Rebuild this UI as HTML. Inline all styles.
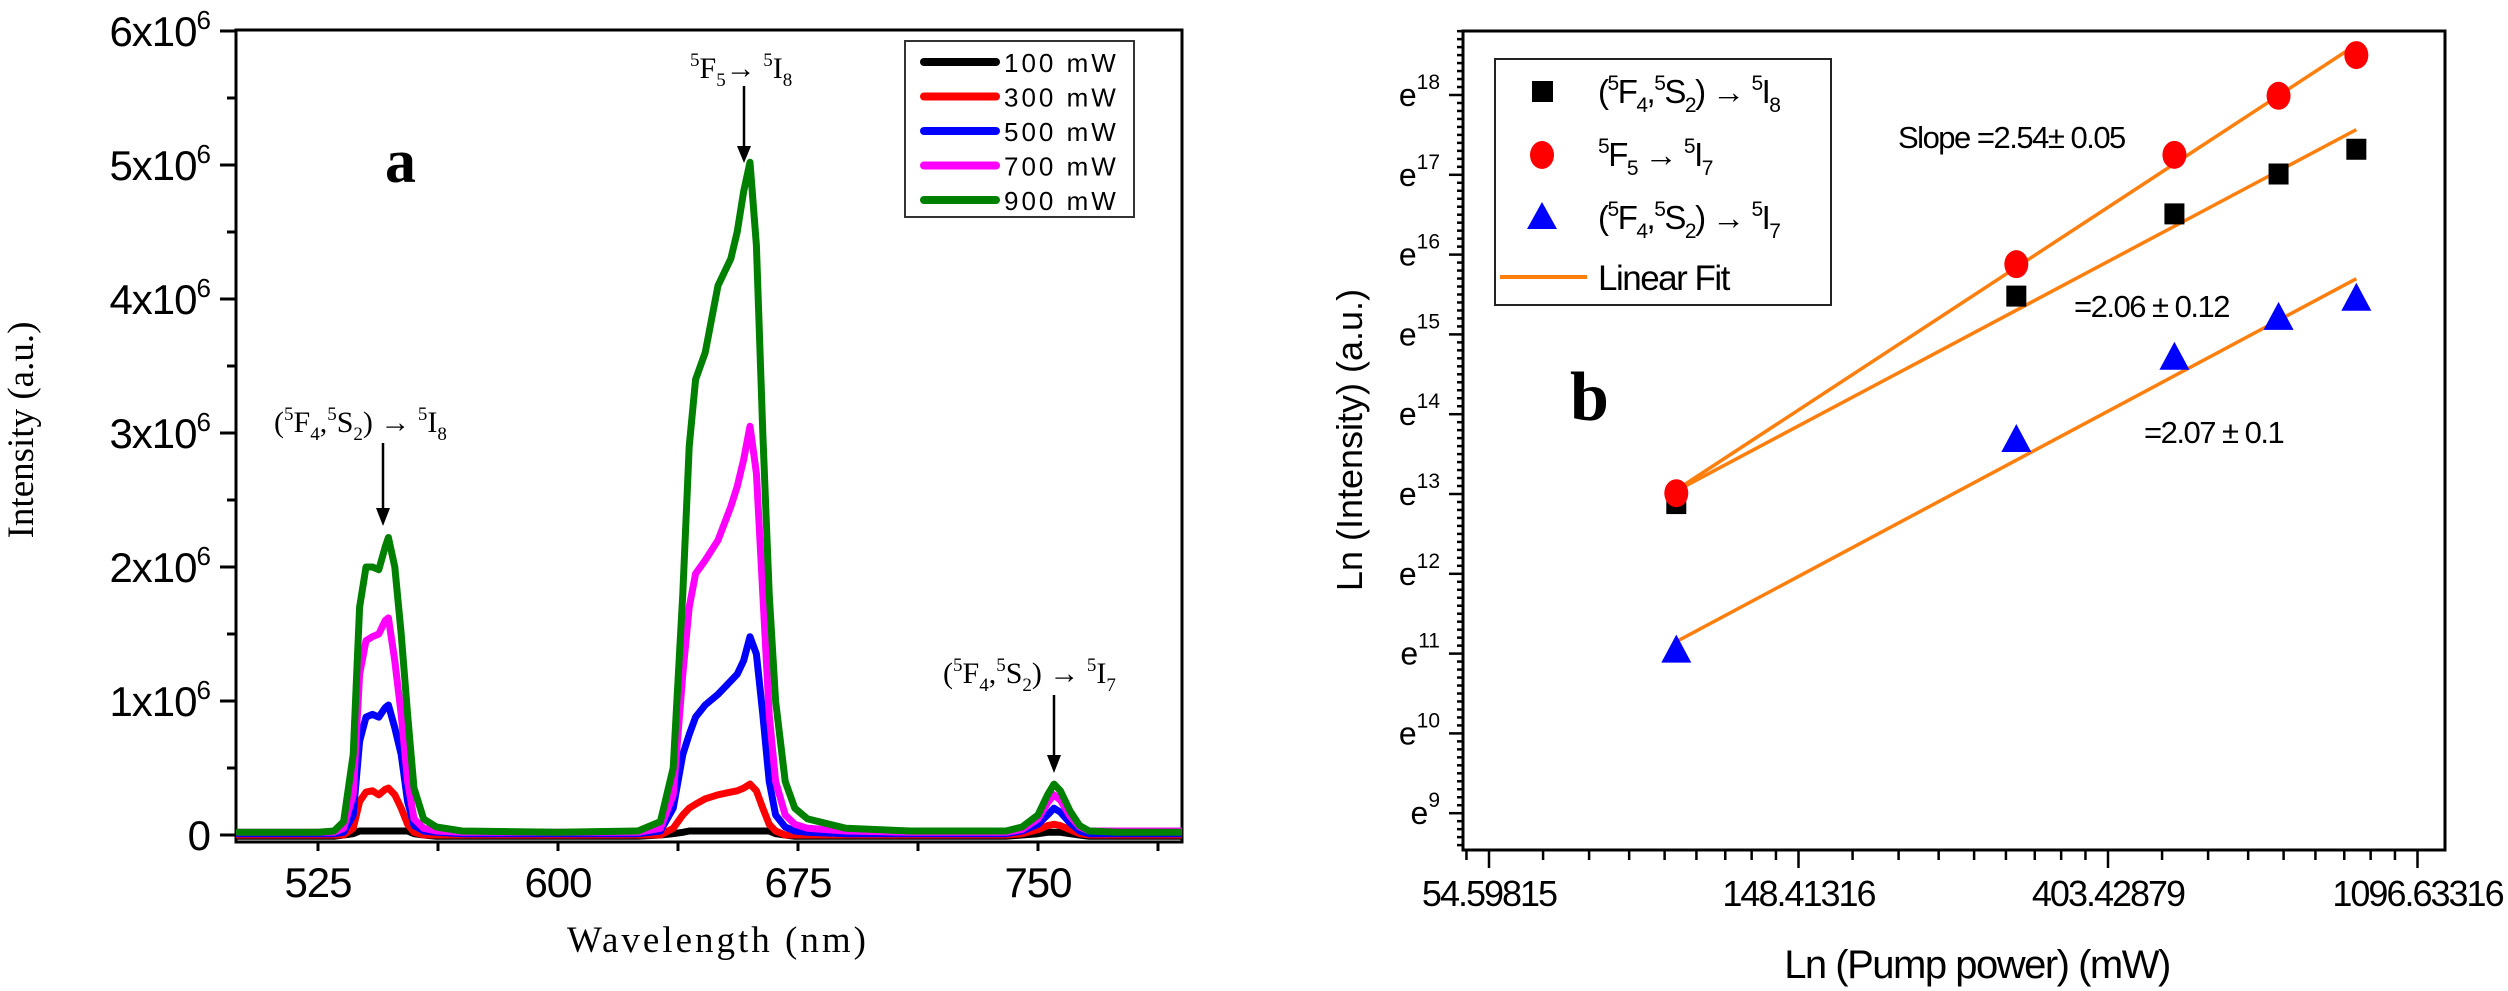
<!DOCTYPE html>
<html><head><meta charset="utf-8"><style>
html,body{margin:0;padding:0;background:#fff;}
svg{display:block;}
.sans{font-family:"Liberation Sans",Arial,sans-serif;}
.serif{font-family:"Liberation Serif","Times New Roman",serif;}
</style></head><body>
<svg id="fig" width="2508" height="991" viewBox="0 0 2508 991" xmlns="http://www.w3.org/2000/svg">
<defs>
<clipPath id="clipL"><rect x="236" y="30" width="946" height="812"/></clipPath>
</defs>
<g id="panelA"></g>
<g id="panelB"></g>

<!-- panel a static annotations -->
<text class="serif" x="385" y="182" font-size="62" font-weight="bold">a</text>
<text class="serif" x="690" y="78" font-size="30"><tspan font-size="19" dy="-12">5</tspan><tspan dy="12">F</tspan><tspan font-size="19" dy="8">5</tspan><tspan dy="-8">→ </tspan><tspan font-size="19" dy="-12">5</tspan><tspan dy="12">I</tspan><tspan font-size="19" dy="8">8</tspan></text>
<text class="serif" x="274" y="432" font-size="30">(<tspan font-size="19" dy="-12">5</tspan><tspan dy="12">F</tspan><tspan font-size="19" dy="8">4</tspan><tspan dy="-8">,</tspan><tspan font-size="19" dy="-12">5</tspan><tspan dy="12">S</tspan><tspan font-size="19" dy="8">2</tspan><tspan dy="-8">) → </tspan><tspan font-size="19" dy="-12">5</tspan><tspan dy="12">I</tspan><tspan font-size="19" dy="8">8</tspan></text>
<text class="serif" x="943" y="683" font-size="30">(<tspan font-size="19" dy="-12">5</tspan><tspan dy="12">F</tspan><tspan font-size="19" dy="8">4</tspan><tspan dy="-8">,</tspan><tspan font-size="19" dy="-12">5</tspan><tspan dy="12">S</tspan><tspan font-size="19" dy="8">2</tspan><tspan dy="-8">) → </tspan><tspan font-size="19" dy="-12">5</tspan><tspan dy="12">I</tspan><tspan font-size="19" dy="8">7</tspan></text>
<g stroke="#000" stroke-width="2.5" fill="#000">
<line x1="744" y1="86" x2="744" y2="148"/><polygon points="737,146 751,146 744,163" stroke="none"/>
<line x1="383" y1="443" x2="383" y2="510"/><polygon points="376,508 390,508 383,526" stroke="none"/>
<line x1="1054" y1="695" x2="1054" y2="757"/><polygon points="1047,755 1061,755 1054,773" stroke="none"/>
</g>
<text class="serif" x="718" y="952" font-size="37" text-anchor="middle" letter-spacing="3">Wavelength (nm)</text>
<text class="serif" x="0" y="0" font-size="37" text-anchor="middle" transform="translate(33,430) rotate(-90)">Intensity (a.u.)</text>

<!-- panel a legend -->
<g>
<rect x="905" y="41" width="229" height="176" fill="#fff" stroke="#333" stroke-width="2"/>
<g id="legA"></g>
</g>

<!-- panel b static -->
<text class="serif" x="1570" y="420" font-size="70" font-weight="bold">b</text>
<text class="sans" x="1898" y="148" font-size="31" letter-spacing="-1.5">Slope =2.54± 0.05</text>
<text class="sans" x="2074" y="317" font-size="31" letter-spacing="-1.5">=2.06 ± 0.12</text>
<text class="sans" x="2144" y="443" font-size="31" letter-spacing="-1.5">=2.07 ± 0.1</text>
<text class="sans" x="1977" y="978" font-size="40" text-anchor="middle" letter-spacing="-1.5">Ln (Pump power) (mW)</text>
<text class="sans" x="0" y="0" font-size="36" text-anchor="middle" transform="translate(1362,440) rotate(-90)">Ln (Intensity) (a.u.)</text>

<g>
<rect x="1495" y="59" width="336" height="246" fill="#fff" stroke="#222" stroke-width="2"/>
<rect x="1532" y="81" width="21" height="21" fill="#000"/>
<ellipse cx="1542" cy="155" rx="12" ry="14" fill="#f00"/>
<polygon points="1542,202 1557,229 1527,229" fill="#00f"/>
<line x1="1500" y1="277" x2="1587" y2="277" stroke="#ff7f0e" stroke-width="4"/>
<text class="sans" x="1598" y="103" font-size="33" letter-spacing="-1.5">(<tspan font-size="21" dy="-13">5</tspan><tspan dy="13">F</tspan><tspan font-size="21" dy="9">4</tspan><tspan dy="-9">,</tspan><tspan font-size="21" dy="-13">5</tspan><tspan dy="13">S</tspan><tspan font-size="21" dy="9">2</tspan><tspan dy="-9">) → </tspan><tspan font-size="21" dy="-13">5</tspan><tspan dy="13">I</tspan><tspan font-size="21" dy="9">8</tspan></text>
<text class="sans" x="1598" y="166" font-size="33" letter-spacing="-1.5"><tspan font-size="21" dy="-13">5</tspan><tspan dy="13">F</tspan><tspan font-size="21" dy="9">5</tspan><tspan dy="-9"> → </tspan><tspan font-size="21" dy="-13">5</tspan><tspan dy="13">I</tspan><tspan font-size="21" dy="9">7</tspan></text>
<text class="sans" x="1598" y="229" font-size="33" letter-spacing="-1.5">(<tspan font-size="21" dy="-13">5</tspan><tspan dy="13">F</tspan><tspan font-size="21" dy="9">4</tspan><tspan dy="-9">,</tspan><tspan font-size="21" dy="-13">5</tspan><tspan dy="13">S</tspan><tspan font-size="21" dy="9">2</tspan><tspan dy="-9">) → </tspan><tspan font-size="21" dy="-13">5</tspan><tspan dy="13">I</tspan><tspan font-size="21" dy="9">7</tspan></text>
<text class="sans" x="1598" y="290" font-size="35" letter-spacing="-1.5">Linear Fit</text>
</g>
</svg>
<script>
// ---------- Panel a data ----------
const wavelengths = [500,525,530,533,536,538,540,542,544,546,547,549,551,553,555,558,562,570,600,625,632,636,639,641,643,646,650,654,656,658,660,662,664,666,668,671,674,678,690,710,740,745,750,753,755,757,760,763,766,775,795];
const series900 = [0.02,0.02,0.03,0.1,0.6,1.7,2.0,2.0,1.98,2.15,2.22,2.0,1.5,0.9,0.35,0.12,0.06,0.03,0.02,0.03,0.1,0.5,1.8,2.9,3.4,3.6,4.1,4.3,4.5,4.8,5.02,4.4,3.0,1.8,1.0,0.4,0.2,0.12,0.05,0.03,0.03,0.06,0.15,0.3,0.38,0.33,0.18,0.07,0.03,0.02,0.02];
const series700 = [0.02,0.02,0.02,0.05,0.3,1.2,1.45,1.48,1.5,1.6,1.62,1.3,0.9,0.4,0.12,0.05,0.03,0.02,0.02,0.02,0.05,0.3,1.2,1.7,1.95,2.05,2.2,2.45,2.6,2.8,3.05,2.7,1.8,0.9,0.4,0.15,0.08,0.05,0.03,0.02,0.02,0.04,0.12,0.24,0.3,0.26,0.14,0.06,0.03,0.03,0.03];
const series500 = [0.01,0.01,0.01,0.02,0.15,0.7,0.88,0.9,0.88,0.95,0.97,0.8,0.6,0.25,0.07,0.03,0.02,0.01,0.01,0.01,0.03,0.2,0.6,0.75,0.88,0.97,1.05,1.15,1.2,1.3,1.48,1.35,0.9,0.4,0.15,0.06,0.03,0.02,0.01,0.01,0.01,0.03,0.08,0.15,0.2,0.17,0.09,0.03,0.01,0.01,0.01];
const series300 = [0,0,0,0,0.05,0.25,0.32,0.33,0.3,0.34,0.35,0.3,0.2,0.08,0.02,0,0,0,0,0,0,0.05,0.15,0.2,0.23,0.27,0.3,0.32,0.33,0.35,0.38,0.33,0.2,0.08,0.03,0,0,0,0,0,0,0.01,0.04,0.07,0.08,0.07,0.04,0.01,0,0,0];
const series100 = [-0.01,-0.01,-0.01,0,0.01,0.03,0.03,0.03,0.03,0.03,0.03,0.03,0.03,0.03,0.01,0,-0.01,-0.01,-0.01,-0.01,0,0.01,0.02,0.03,0.03,0.03,0.03,0.03,0.03,0.03,0.03,0.03,0.03,0.03,0.01,0,-0.01,-0.01,-0.01,-0.01,-0.01,0,0.01,0.02,0.02,0.02,0.01,0,-0.01,-0.01,-0.01];
const powerLabels = ["100 mW","300 mW","500 mW","700 mW","900 mW"];
const yTicksA = [0,1,2,3,4,5,6];
const yTickLabelsA = ["0","1x10","2x10","3x10","4x10","5x10","6x10"];
const xTicksA = [525,600,675,750];

// ---------- Panel b data ----------
const pumpPowers = [100,300,500,700,900];
const lnI_I8 = [12.88,15.48,16.51,17.01,17.32];
const lnI_F5I7 = [13.01,15.88,17.25,17.99,18.5];
const lnI_S2I7 = [11.05,13.69,14.72,15.22,15.46];
const fitSlopes = [2.06,2.54,2.07];
const fitStarts = [13.04,13.05,11.15];
const xTicksB = [4,5,6,7];
const xTickLabelsB = ["54.59815","148.41316","403.42879","1096.63316"];
const yTicksB = [9,10,11,12,13,14,15,16,17,18];

const NS = "http://www.w3.org/2000/svg";
function mk(tag, attrs, parent){const e=document.createElementNS(NS,tag);for(const k in attrs)e.setAttribute(k,attrs[k]);parent.appendChild(e);return e;}

// ---------- Panel a ----------
const A = document.getElementById('panelA');
const xL = w => 318 + (w-525)*3.2;
const yL = v => 835 - v*134;
const colors = ["#000000","#ff0000","#0000ff","#ff00ff","#008000"];
const allSeries = [series100,series300,series500,series700,series900];
const frameA = mk('rect',{x:236,y:30,width:946,height:812,fill:'none',stroke:'#000','stroke-width':3},A);


const gLines = mk('g',{'clip-path':'url(#clipL)'},A);


allSeries.forEach((s,i)=>{
  const d = s.map((v,j)=>(j?'L':'M')+xL(wavelengths[j]).toFixed(1)+','+yL(v).toFixed(1)).join(' ');
  const p = mk('path',{d:d,fill:'none',stroke:colors[i],'stroke-width':7,'stroke-linejoin':'round','stroke-linecap':'round'},gLines);
  
  
});
// y ticks
yTicksA.forEach((t,i)=>{
  mk('line',{x1:220,x2:236,y1:yL(t),y2:yL(t),stroke:'#000','stroke-width':3},A);
  if(i<6) mk('line',{x1:227,x2:236,y1:yL(t+0.5),y2:yL(t+0.5),stroke:'#000','stroke-width':3},A);
  const tx = mk('text',{x:210,y:yL(t)+15,'text-anchor':'end','font-size':42,class:'sans','letter-spacing':-1},A);
  
  
  if(t===0){tx.textContent='0';}
  else{tx.appendChild(document.createTextNode(yTickLabelsA[i]));const sp=mk('tspan',{dy:-17,'font-size':26},tx);sp.textContent='6';}
});
// x ticks
xTicksA.forEach(t=>{
  mk('line',{x1:xL(t),x2:xL(t),y1:842,y2:851,stroke:'#000','stroke-width':3},A);
  mk('line',{x1:xL(t+37.5),x2:xL(t+37.5),y1:842,y2:851,stroke:'#000','stroke-width':3},A);
  const tx = mk('text',{x:xL(t),y:897,'text-anchor':'middle','font-size':42,class:'sans','letter-spacing':-1},A);
  tx.textContent = t;
  
  
});
// legend a
const LA = document.getElementById('legA');
powerLabels.forEach((lab,i)=>{
  const y = 62 + i*34.5;
  const ln = mk('line',{x1:924,x2:996,y1:y,y2:y,stroke:colors[i],'stroke-width':8,'stroke-linecap':'round'},LA);
  
  
  const tx = mk('text',{x:1004,y:y+10,'font-size':26,class:'sans','letter-spacing':3},LA);
  tx.textContent = lab;
  
  
});

// ---------- Panel b ----------
const B = document.getElementById('panelB');
const xR = ln => 1489 + (ln-4)*309.5;
const yR = v => 494 + (13-v)*79.8;
const frameB = mk('rect',{x:1463,y:31,width:982,height:819,fill:'none',stroke:'#000','stroke-width':3},B);


// y ticks (major + 9 minor each)
for(let v=8.5; v<=18.85; v+=0.1){
  const r = Math.round(v*10)/10;
  if(r<8.55||r>18.8) continue;
  const major = Math.abs(r-Math.round(r))<0.01;
  mk('line',{x1:major?1449:1457,x2:1463,y1:yR(r),y2:yR(r),stroke:'#000','stroke-width':2.5},B);
}
yTicksB.forEach(t=>{
  const tx = mk('text',{x:1440,y:yR(t)+11,'text-anchor':'end','font-size':32,class:'sans'},B);
  tx.appendChild(document.createTextNode('e'));
  const sp = mk('tspan',{dy:-17,'font-size':21},tx); sp.textContent = t;
  
  
});
// x ticks (log, 8 linear minors per e-decade)
for(let k=3;k<=7;k++){
  const a=Math.exp(k), b=Math.exp(k+1);
  for(let m=0;m<9;m++){
    const val = a + m*(b-a)/9;
    const lx = Math.log(val);
    const px = xR(lx);
    if(px<1463||px>2445) continue;
    mk('line',{x1:px,x2:px,y1:850,y2:m===0?868:860,stroke:'#000','stroke-width':2.5},B);
  }
}
xTicksB.forEach((t,i)=>{
  const tx = mk('text',{x:xR(t),y:906,'text-anchor':'middle','font-size':36,class:'sans','letter-spacing':-2},B);
  tx.textContent = xTickLabelsB[i];
  
  
});
// fit lines
const x0 = Math.log(pumpPowers[0]), x1 = Math.log(pumpPowers[pumpPowers.length-1]);
fitSlopes.forEach((s,i)=>{
  const l = mk('line',{x1:xR(x0),y1:yR(fitStarts[i]),x2:xR(x1),y2:yR(fitStarts[i]+s*(x1-x0)),stroke:'#ff7f0e','stroke-width':3.5},B);
  
  
});
// markers
pumpPowers.forEach((p,i)=>{
  const px = xR(Math.log(p));
  const sq = mk('rect',{x:px-10,y:yR(lnI_I8[i])-10.5,width:20,height:21,fill:'#000'},B);
  
  
  const c = mk('ellipse',{cx:px,cy:yR(lnI_F5I7[i]),rx:12,ry:14,fill:'#f00'},B);
  
  
  const cy = yR(lnI_S2I7[i]);
  const tr = mk('polygon',{points:`${px},${cy-15} ${px+15},${cy+13} ${px-15},${cy+13}`,fill:'#00f'},B);
  
  
});
</script>
</body></html>
